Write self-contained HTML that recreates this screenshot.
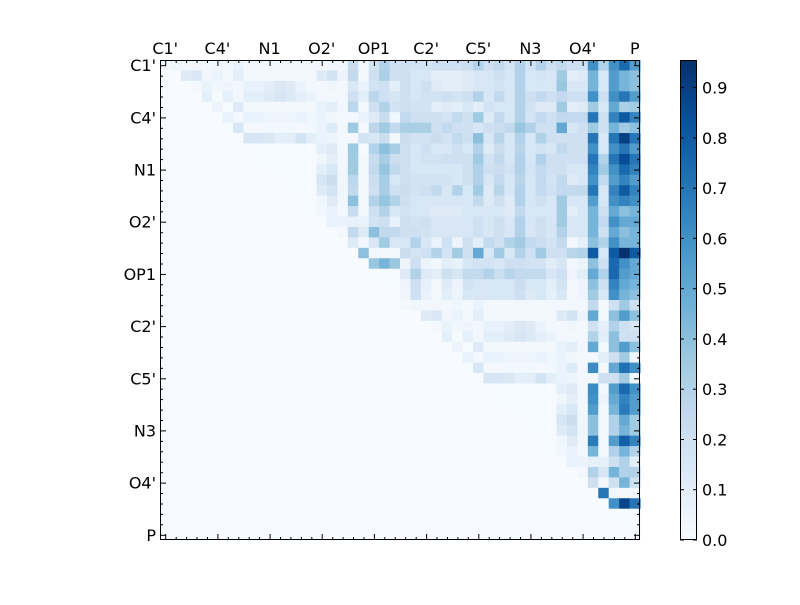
<!DOCTYPE html>
<html><head><meta charset="utf-8"><style>
html,body{margin:0;padding:0;background:#fff;}
svg text{font-family:"DejaVu Sans","Liberation Sans",sans-serif;font-size:16px;fill:#000;}
</style></head><body>
<svg id="s" width="800" height="600" xmlns="http://www.w3.org/2000/svg">
<rect width="800" height="600" fill="#fff"/>
<g id="cells"></g>
<defs><linearGradient id="cb" x1="0" y1="1" x2="0" y2="0">
<stop offset="0" stop-color="#f7fbff"/><stop offset="0.125" stop-color="#deebf7"/><stop offset="0.25" stop-color="#c6dbef"/><stop offset="0.375" stop-color="#9ecae1"/><stop offset="0.5" stop-color="#6baed6"/><stop offset="0.625" stop-color="#4292c6"/><stop offset="0.75" stop-color="#2171b5"/><stop offset="0.875" stop-color="#08519c"/><stop offset="1" stop-color="#08306b"/>
</linearGradient></defs>
<rect x="680.5" y="60.5" width="16" height="479" fill="url(#cb)" stroke="#000" stroke-width="1"/>
<g id="ticks" stroke="#000" stroke-width="1"></g>
<rect x="160.5" y="60.5" width="479" height="479" fill="none" stroke="#000" stroke-width="1"/>
<g id="labels"></g>
</svg>
<script>
var A=[
[.02,.04,.03,.03,.02,.04,.02,.06,.02,.02,.02,.03,.03,.02,.02,.02,.02,.03,.22,.03,.18,.3,.2],
[0,0,.12,.14,.03,.06,.02,.1,.02,.02,.02,.02,.02,.02,.02,.12,.18,.05,.25,.02,.2,.32,.2],
[0,0,0,.02,.06,.03,.05,.03,.07,.07,.1,.14,.12,.06,.03,.02,.04,.02,.14,.06,.18,.2,.1],
[0,0,0,0,.09,.01,.08,.03,.1,.1,.12,.16,.13,.09,.06,.03,.02,.02,.2,.1,.27,.2,.16],
[0,0,0,0,0,.05,.01,.12,.02,.02,.02,.02,.02,.02,.02,.07,.1,.03,.27,.02,.2,.3,.18],
[0,0,0,0,0,0,.07,.02,.07,.07,.05,.05,.05,.07,.04,.06,.03,.02,.02,.07,.12,.22,.04],
[0,0,0,0,0,0,0,.15,.02,.02,.02,.02,.02,.02,.02,.06,.12,.03,.36,.02,.27,.35,.25],
[0,0,0,0,0,0,0,0,.16,.16,.14,.1,.1,.18,.1,.06,.05,.02,.02,.18,.15,.22,.02],
[0,0,0,0,0,0,0,0,0,.01,.01,.01,.01,.01,.01,.09,.12,.03,.36,.01,.3,.4,.33],
[0,0,0,0,0,0,0,0,0,0,.01,.01,.01,.01,.01,.04,.1,.03,.35,.02,.23,.33,.22],
[0,0,0,0,0,0,0,0,0,0,0,.01,.01,.01,.01,.1,.15,.03,.35,.02,.25,.38,.25],
[0,0,0,0,0,0,0,0,0,0,0,0,.01,.01,.01,.16,.22,.04,.27,.02,.22,.33,.15],
[0,0,0,0,0,0,0,0,0,0,0,0,0,.01,.01,.12,.17,.04,.25,.02,.2,.33,.2],
[0,0,0,0,0,0,0,0,0,0,0,0,0,0,.01,.04,.12,.03,.4,.02,.3,.38,.3],
[0,0,0,0,0,0,0,0,0,0,0,0,0,0,0,.03,.06,.02,.23,.03,.2,.3,.15],
[0,0,0,0,0,0,0,0,0,0,0,0,0,0,0,0,.07,.06,.07,.07,.18,.2,.07],
[0,0,0,0,0,0,0,0,0,0,0,0,0,0,0,0,0,.03,.25,.13,.4,.25,.25],
[0,0,0,0,0,0,0,0,0,0,0,0,0,0,0,0,0,0,.12,.03,.15,.35,.15],
[0,0,0,0,0,0,0,0,0,0,0,0,0,0,0,0,0,0,0,.4,.03,.03,.03],
[0,0,0,0,0,0,0,0,0,0,0,0,0,0,0,0,0,0,0,0,.37,.45,.37],
[0,0,0,0,0,0,0,0,0,0,0,0,0,0,0,0,0,0,0,0,0,.01,.01],
[0,0,0,0,0,0,0,0,0,0,0,0,0,0,0,0,0,0,0,0,0,0,.01],
[0,0,0,0,0,0,0,0,0,0,0,0,0,0,0,0,0,0,0,0,0,0,0]];
var Cov=[
[.25,.02,.2,.35,.2],[.5,.02,.4,.55,.4],[.2,.08,.3,.2,.15],[.3,.1,.4,.2,.2],[.5,.02,.4,.55,.4],
[.02,.1,.2,.35,.05],[.62,.02,.5,.72,.6],[.02,.2,.2,.35,.02],[.62,.02,.55,.75,.6],[.6,.05,.5,.65,.55],
[.55,.02,.45,.68,.55],[.4,.02,.3,.5,.35],[.4,.02,.3,.45,.35],[.68,.02,.55,.78,.65],[.45,.02,.3,.45,.3],
[.08,.08,.2,.3,.1],[.3,.15,.45,.3,.3],[.2,.03,.2,.45,.2],[0,.7,.03,.03,.03],[0,0,.6,.88,.7],
[0,0,0,.01,.01],[0,0,0,0,.01],[0,0,0,0,0]];
var B=[
[.2,.18,.18,.2,.2,.2,.22,.3,.2,.25,.17,.3,.18,.3,.2,.25,.2,.2,.6,.3,.6,.75,.55],
[.2,.15,.15,.1,.1,.1,.12,.15,.15,.2,.15,.3,.15,.17,.15,.35,.1,.12,.45,.15,.55,.45,.4],
[.2,.15,.2,.12,.1,.1,.12,.15,.15,.18,.15,.3,.15,.15,.15,.37,.15,.15,.45,.15,.55,.45,.4],
[.2,.15,.18,.18,.2,.18,.2,.3,.15,.25,.15,.3,.2,.25,.2,.25,.2,.2,.6,.2,.6,.7,.55],
[.2,.18,.18,.1,.12,.1,.15,.1,.18,.15,.15,.3,.18,.12,.12,.35,.1,.12,.35,.15,.5,.32,.35],
[.25,.2,.2,.2,.18,.25,.2,.35,.12,.25,.15,.3,.17,.25,.2,.25,.25,.25,.7,.2,.65,.8,.65],
[.32,.32,.32,.2,.25,.2,.2,.15,.2,.22,.25,.37,.3,.2,.2,.5,.15,.2,.35,.2,.45,.35,.4],
[.22,.18,.18,.22,.18,.25,.2,.4,.15,.28,.15,.3,.15,.3,.2,.2,.2,.2,.7,.15,.7,.9,.7],
[.2,.15,.2,.15,.15,.2,.15,.3,.12,.22,.15,.28,.15,.18,.15,.25,.2,.2,.6,.15,.6,.7,.55],
[.2,.15,.18,.18,.2,.2,.2,.35,.18,.25,.15,.3,.15,.3,.2,.2,.2,.2,.7,.3,.7,.85,.7],
[.2,.15,.15,.15,.15,.15,.2,.3,.2,.22,.18,.3,.17,.25,.2,.2,.15,.15,.65,.35,.6,.75,.65],
[.2,.18,.18,.18,.18,.15,.2,.3,.15,.25,.15,.28,.15,.25,.18,.25,.12,.15,.6,.25,.55,.65,.55],
[.22,.18,.2,.25,.15,.3,.15,.35,.12,.28,.15,.3,.15,.25,.2,.25,.25,.25,.7,.15,.65,.8,.65],
[.2,.15,.15,.15,.15,.15,.15,.25,.12,.2,.12,.3,.15,.2,.15,.35,.15,.15,.55,.15,.6,.65,.6],
[.18,.15,.15,.12,.12,.12,.15,.15,.15,.15,.12,.25,.15,.15,.15,.35,.1,.15,.45,.2,.5,.4,.45],
[.2,.18,.2,.15,.15,.15,.15,.2,.15,.2,.15,.3,.15,.2,.15,.35,.15,.15,.45,.25,.6,.5,.5],
[.2,.2,.18,.15,.15,.15,.15,.2,.15,.2,.15,.3,.15,.2,.15,.3,.15,.15,.45,.2,.5,.4,.45],
[.15,.3,.15,.06,.2,.05,.2,.1,.25,.2,.3,.35,.25,.22,.18,.25,.02,.08,.4,.3,.6,.45,.45],
[.22,.17,.2,.3,.18,.35,.2,.5,.15,.35,.15,.3,.2,.35,.2,.2,.28,.3,.8,.15,.8,.95,.8],
[.05,.2,.05,.03,.1,.07,.15,.18,.18,.15,.2,.2,.18,.18,.1,.15,.03,.05,.4,.2,.75,.6,.5],
[.12,.3,.12,.1,.2,.15,.25,.25,.3,.22,.28,.25,.25,.25,.15,.2,.05,.1,.5,.3,.75,.55,.5],
[.05,.2,.08,.03,.12,.05,.18,.15,.15,.15,.15,.22,.15,.15,.1,.18,.03,.05,.4,.2,.65,.5,.45],
[.04,.2,.06,.03,.1,.05,.15,.15,.15,.15,.15,.2,.13,.15,.08,.15,.03,.05,.35,.15,.6,.45,.4]];
var stops=["#f7fbff","#deebf7","#c6dbef","#9ecae1","#6baed6","#4292c6","#2171b5","#08519c","#08306b"].map(function(h){return [parseInt(h.substr(1,2),16),parseInt(h.substr(3,2),16),parseInt(h.substr(5,2),16)];});
function col(v){var t=Math.max(0,Math.min(1,v/0.955))*8;var i=Math.min(7,Math.floor(t));var f=t-i;var a=stops[i],b=stops[i+1];
return "rgb("+[0,1,2].map(function(k){return Math.round(a[k]+(b[k]-a[k])*f);}).join(",")+")";}
var N=46,cs=480/N,h="";
for(var r=0;r<N;r++)for(var c=0;c<N;c++){
 var v=0;
 if(r<23&&c<23)v=A[r][c];
 else if(r>=23&&c>=23){var lr=r-23,lc=c-23;v=(lc>=18&&lc>lr)?Cov[lr][lc-18]:A[lr][lc];}
 else if(r<23&&c>=23)v=B[r][c-23];
 h+='<rect x="'+(160+c*cs).toFixed(2)+'" y="'+(60+r*cs).toFixed(2)+'" width="'+(cs+0.6).toFixed(2)+'" height="'+(cs+0.6).toFixed(2)+'" fill="'+col(v)+'"/>';
}
document.getElementById("cells").innerHTML=h;
var t="",L="";
var names=["C1'","C4'","N1","O2'","OP1","C2'","C5'","N3","O4'","P"];
for(var i=0;i<N;i++){
 var p=(160.5+(i+0.5)*cs).toFixed(1),q=(60.5+(i+0.5)*cs).toFixed(1);
 var len=(i%5==0)?6:3;
 t+='<line x1="'+p+'" y1="60" x2="'+p+'" y2="'+(60+len)+'"/>';
 t+='<line x1="'+p+'" y1="540" x2="'+p+'" y2="'+(540-len)+'"/>';
 t+='<line x1="160" y1="'+q+'" x2="'+(160+len)+'" y2="'+q+'"/>';
 t+='<line x1="640" y1="'+q+'" x2="'+(640-len)+'" y2="'+q+'"/>';
}
for(var j=0;j<10;j++){
 var p=160+(j*5+0.5)*cs,q=60+(j*5+0.5)*cs;
 L+='<text x="'+p.toFixed(1)+'" y="54" text-anchor="middle">'+names[j]+'</text>';
 L+='<text x="156" y="'+(q+6).toFixed(1)+'" text-anchor="end">'+names[j]+'</text>';
}
for(var k=0;k<=9;k++){
 var y=540-k*0.1*(480/0.955);
 t+='<line x1="697" y1="'+y.toFixed(1)+'" x2="693" y2="'+y.toFixed(1)+'"/>';
 t+='<line x1="680" y1="'+y.toFixed(1)+'" x2="684" y2="'+y.toFixed(1)+'"/>';
 L+='<text x="702" y="'+(y+6).toFixed(1)+'">'+(k/10).toFixed(1)+'</text>';
}
document.getElementById("ticks").innerHTML=t;
document.getElementById("labels").innerHTML=L;
</script>
</body></html>
